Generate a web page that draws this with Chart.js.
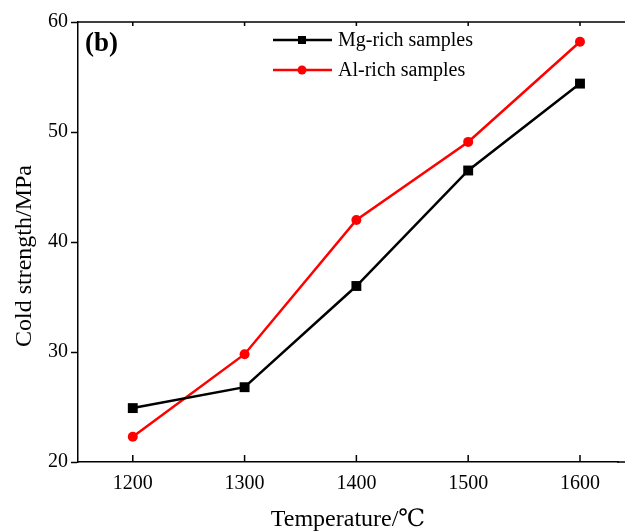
<!DOCTYPE html>
<html lang="en">
<head>
  <meta charset="UTF-8">
  <title>Cold strength vs temperature</title>
  <script src="https://cdn.jsdelivr.net/npm/chart.js"></script>
  <style>
    html, body { margin: 0; padding: 0; background: #fff; }
    #wrap { width: 625px; height: 532px; }
  </style>
</head>
<body>
  <div id="wrap"><canvas id="chartCanvas" width="625" height="532"></canvas></div>

  <script>
    const temps = [1200, 1300, 1400, 1500, 1600];
    const mgRich = [24.9, 26.8, 36.0, 46.5, 54.4];
    const alRich = [22.3, 29.8, 42.0, 49.1, 58.2];
    const yTicks = [20, 30, 40, 50, 60];
    const seriesNames = ['Mg-rich samples', 'Al-rich samples'];

    const serif = '"Liberation Serif", "DejaVu Serif", serif';

    // frame lines, inward ticks, y title, legend and panel tag
    const decor = {
      id: 'decor',
      afterDraw(chart) {
        const { ctx, chartArea: a, scales } = chart;
        ctx.save();
        ctx.strokeStyle = '#000';
        ctx.lineWidth = 1.5;
        ctx.beginPath();
        ctx.moveTo(a.left, a.top);
        ctx.lineTo(chart.width, a.top);
        ctx.moveTo(a.right - 1, a.bottom);
        ctx.lineTo(chart.width, a.bottom);
        ctx.stroke();
        ctx.beginPath();
        temps.forEach(t => {
          const x = scales.x.getPixelForValue(t);
          ctx.moveTo(x, a.bottom);
          ctx.lineTo(x, a.bottom - 7);
          ctx.moveTo(x, a.top);
          ctx.lineTo(x, a.top + 4);
        });
        ctx.stroke();

        // y axis title, sits a bit below the axis centre in the original
        ctx.fillStyle = '#000';
        ctx.font = '24px ' + serif;
        ctx.textAlign = 'center';
        ctx.textBaseline = 'middle';
        ctx.translate(25, 256);
        ctx.rotate(-Math.PI / 2);
        ctx.fillText('Cold strength/MPa', 0, 0);
        ctx.setTransform(1, 0, 0, 1, 0, 0);

        // legend
        const rows = [40, 70];
        chart.data.datasets.forEach((ds, i) => {
          const y = rows[i];
          ctx.strokeStyle = ds.borderColor;
          ctx.lineWidth = 2.5;
          ctx.beginPath();
          ctx.moveTo(273, y);
          ctx.lineTo(332, y);
          ctx.stroke();
          ctx.fillStyle = ds.borderColor;
          if (ds.pointStyle === 'rect') {
            ctx.fillRect(298, y - 4, 8, 8);
          } else {
            ctx.beginPath();
            ctx.arc(302, y, 4.5, 0, Math.PI * 2);
            ctx.fill();
          }
          ctx.fillStyle = '#000';
          ctx.font = '20px ' + serif;
          ctx.textBaseline = 'middle';
          ctx.textAlign = 'left';
          ctx.fillText(ds.label, 338, y + 1);
        });

        ctx.font = 'bold 27px ' + serif;
        ctx.textBaseline = 'middle';
        ctx.fillText('(b)', 85, 44);
        ctx.restore();
      }
    };

    new Chart(document.getElementById('chartCanvas'), {
      type: 'line',
      data: {
        datasets: [
          {
            label: seriesNames[0],
            data: temps.map((t, i) => ({ x: t, y: mgRich[i] })),
            borderColor: '#000',
            backgroundColor: '#000',
            borderWidth: 2.5,
            pointStyle: 'rect',
            pointRadius: 7,
            pointBorderWidth: 0,
            tension: 0
          },
          {
            label: seriesNames[1],
            data: temps.map((t, i) => ({ x: t, y: alRich[i] })),
            borderColor: '#ff0000',
            backgroundColor: '#ff0000',
            borderWidth: 2.5,
            pointStyle: 'circle',
            pointRadius: 5,
            pointBorderWidth: 0,
            tension: 0
          }
        ]
      },
      options: {
        responsive: false,
        animation: false,
        layout: { padding: { top: 22, right: 0, left: 0, bottom: 0 } },
        plugins: { legend: { display: false }, tooltip: { enabled: false } },
        scales: {
          x: {
            type: 'linear',
            min: 1151,
            max: 1634,
            afterBuildTicks: s => { s.ticks = temps.map(v => ({ value: v })); },
            afterFit: s => { s.height = 70; },
            border: { color: '#000', width: 1.5 },
            grid: { display: true, drawOnChartArea: false, drawTicks: false },
            ticks: {
              color: '#000', font: { family: serif, size: 20 }, padding: 10, maxRotation: 0,
              callback: v => String(v)
            },
            title: {
              display: true, text: 'Temperature/℃', color: '#000',
              font: { family: serif, size: 24, lineHeight: 1 }, padding: { top: 0, bottom: 0 }
            }
          },
          y: {
            min: 20,
            max: 60,
            afterBuildTicks: s => { s.ticks = yTicks.map(v => ({ value: v })); },
            afterFit: s => { s.width = 78; },
            border: { color: '#000', width: 1.5 },
            grid: { display: true, drawOnChartArea: false, drawTicks: true, tickLength: 7, tickWidth: 1.5, color: '#000' },
            ticks: { color: '#000', font: { family: serif, size: 20 }, padding: 3, callback: v => String(v) }
          }
        }
      },
      plugins: [decor]
    });
  </script>
</body>
</html>
